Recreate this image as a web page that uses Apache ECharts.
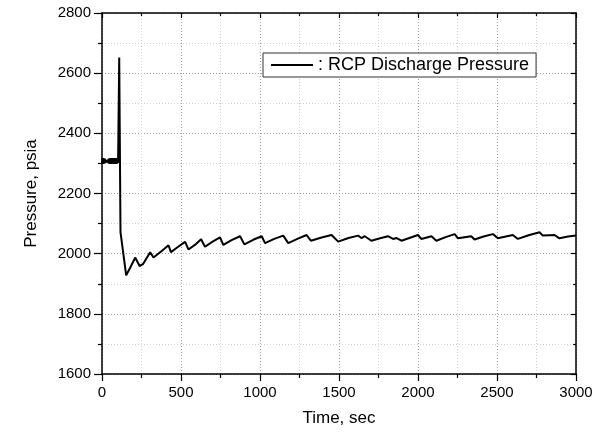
<!DOCTYPE html>
<html>
<head>
<meta charset="utf-8">
<script src="https://cdn.jsdelivr.net/npm/echarts@6/dist/echarts.min.js"></script>
<style>html,body{margin:0;padding:0;background:#fff}#c{width:602px;height:435px}</style>
</head>
<body>
<div id="c"></div>
<script>
// Time (s) and RCP discharge pressure (psia)
var timeSec = [0,2,4,6,8,10,12,14,16,18,20,22,24,26,28,30,32,34,36,38,40,42,44,46,48,50,52,54,56,58,60,62,64,66,68,70,72,74,76,78,80,82,84,86,88,90,92,94,96,98,100,102,
  104,109,117,153,180,210,238,259,305,326,380,421,436,480,526,547,590,627,652,700,747,768,820,874,901,960,1011,1032,1090,1147,1179,1240,1295,1322,1390,1453,1495,1560,1621,1642,1663,1705,1760,1810,1842,1865,1895,1950,2000,2021,2085,2116,2175,2232,2253,2337,2358,2415,2474,2505,2600,2632,2700,2769,2790,2864,2895,2950,3000];
var pressure = [2300,2317,2299,2318,2298,2316,2299,2317,2300,2315,2302,2313,2303,2311,2304,2310,2305,2311,2303,2313,2301,2315,2300,2316,2299,2317,2298,2318,2298,2317,2299,2318,2298,2317,2299,2318,2298,2317,2299,2318,2298,2317,2299,2318,2298,2317,2299,2318,2300,2316,2302,2312,
  2312,2652,2072,1928,1955,1987,1959,1965,2005,1987,2010,2028,2005,2022,2039,2014,2030,2048,2023,2040,2054,2029,2045,2058,2031,2047,2058,2035,2049,2060,2035,2050,2062,2043,2054,2062,2040,2052,2060,2052,2058,2043,2051,2058,2049,2052,2043,2053,2062,2049,2058,2043,2055,2065,2051,2058,2047,2057,2065,2051,2062,2049,2061,2071,2060,2062,2051,2057,2060];
var seriesName = ': RCP Discharge Pressure';
var xTitle = 'Time, sec';
var yTitle = 'Pressure, psia';

var data = timeSec.map(function(t, i){ return [t, pressure[i]]; });
var font = 'Liberation Sans, Arial, sans-serif';
var plain = function(v){ return String(v); };
var chart = echarts.init(document.getElementById('c'), null, {renderer:'canvas'});
var majorGrid = {show:true, lineStyle:{color:'#a0a0a0', type:[1,2], width:1}};
var minorGrid = {show:true, lineStyle:{color:'#cfcfcf', type:[1,2], width:1}};
var axLine = {show:true, onZero:false, lineStyle:{color:'#000', width:1.5}};
chart.setOption({
  animation:false,
  backgroundColor:'#fff',
  grid:{left:102, right:26, top:13, bottom:61},
  legend:{
    show:true, left:263, top:53, orient:'horizontal',
    data:[{name:seriesName, icon:'rect'}],
    itemWidth:42, itemHeight:2,
    borderColor:'#333', borderWidth:1, backgroundColor:'#fff',
    padding:[3,7,3,8],
    textStyle:{fontFamily:font, fontSize:18, color:'#000'}
  },
  xAxis:[{
    type:'value', min:0, max:3000, interval:500, position:'bottom',
    name:xTitle, nameLocation:'middle', nameGap:36,
    nameTextStyle:{fontFamily:font, fontSize:17, color:'#000'},
    axisLine:axLine,
    axisTick:{show:true, inside:false, length:7, lineStyle:{color:'#000', width:1.2}},
    minorTick:{show:true, splitNumber:2, length:4, lineStyle:{color:'#000', width:1.2}},
    axisLabel:{fontFamily:font, fontSize:15, color:'#000', margin:11, formatter:plain},
    splitLine:majorGrid, minorSplitLine:minorGrid
  },{
    type:'value', min:0, max:3000, interval:500, position:'top',
    axisLine:axLine,
    axisTick:{show:true, inside:true, length:5, lineStyle:{color:'#000', width:1.2}},
    minorTick:{show:true, splitNumber:2, length:3, lineStyle:{color:'#000', width:1.2}},
    axisLabel:{show:false}, splitLine:{show:false}
  }],
  yAxis:[{
    type:'value', min:1600, max:2800, interval:200, position:'left',
    name:yTitle, nameLocation:'middle', nameGap:62,
    nameTextStyle:{fontFamily:font, fontSize:17, color:'#000'},
    axisLine:axLine,
    axisTick:{show:true, inside:false, length:8, lineStyle:{color:'#000', width:1.2}},
    minorTick:{show:true, splitNumber:2, length:4, lineStyle:{color:'#000', width:1.2}},
    axisLabel:{fontFamily:font, fontSize:15, color:'#000', margin:11, formatter:plain},
    splitLine:majorGrid, minorSplitLine:minorGrid
  },{
    type:'value', min:1600, max:2800, interval:200, position:'right',
    axisLine:axLine,
    axisTick:{show:true, inside:true, length:5, lineStyle:{color:'#000', width:1.2}},
    minorTick:{show:true, splitNumber:2, length:3, lineStyle:{color:'#000', width:1.2}},
    axisLabel:{show:false}, splitLine:{show:false}
  }],
  series:[{
    name:seriesName, type:'line', xAxisIndex:0, yAxisIndex:0,
    data:data, showSymbol:false, symbol:'none',
    lineStyle:{color:'#000', width:2}, itemStyle:{color:'#000'}
  }]
});
</script>
</body>
</html>
